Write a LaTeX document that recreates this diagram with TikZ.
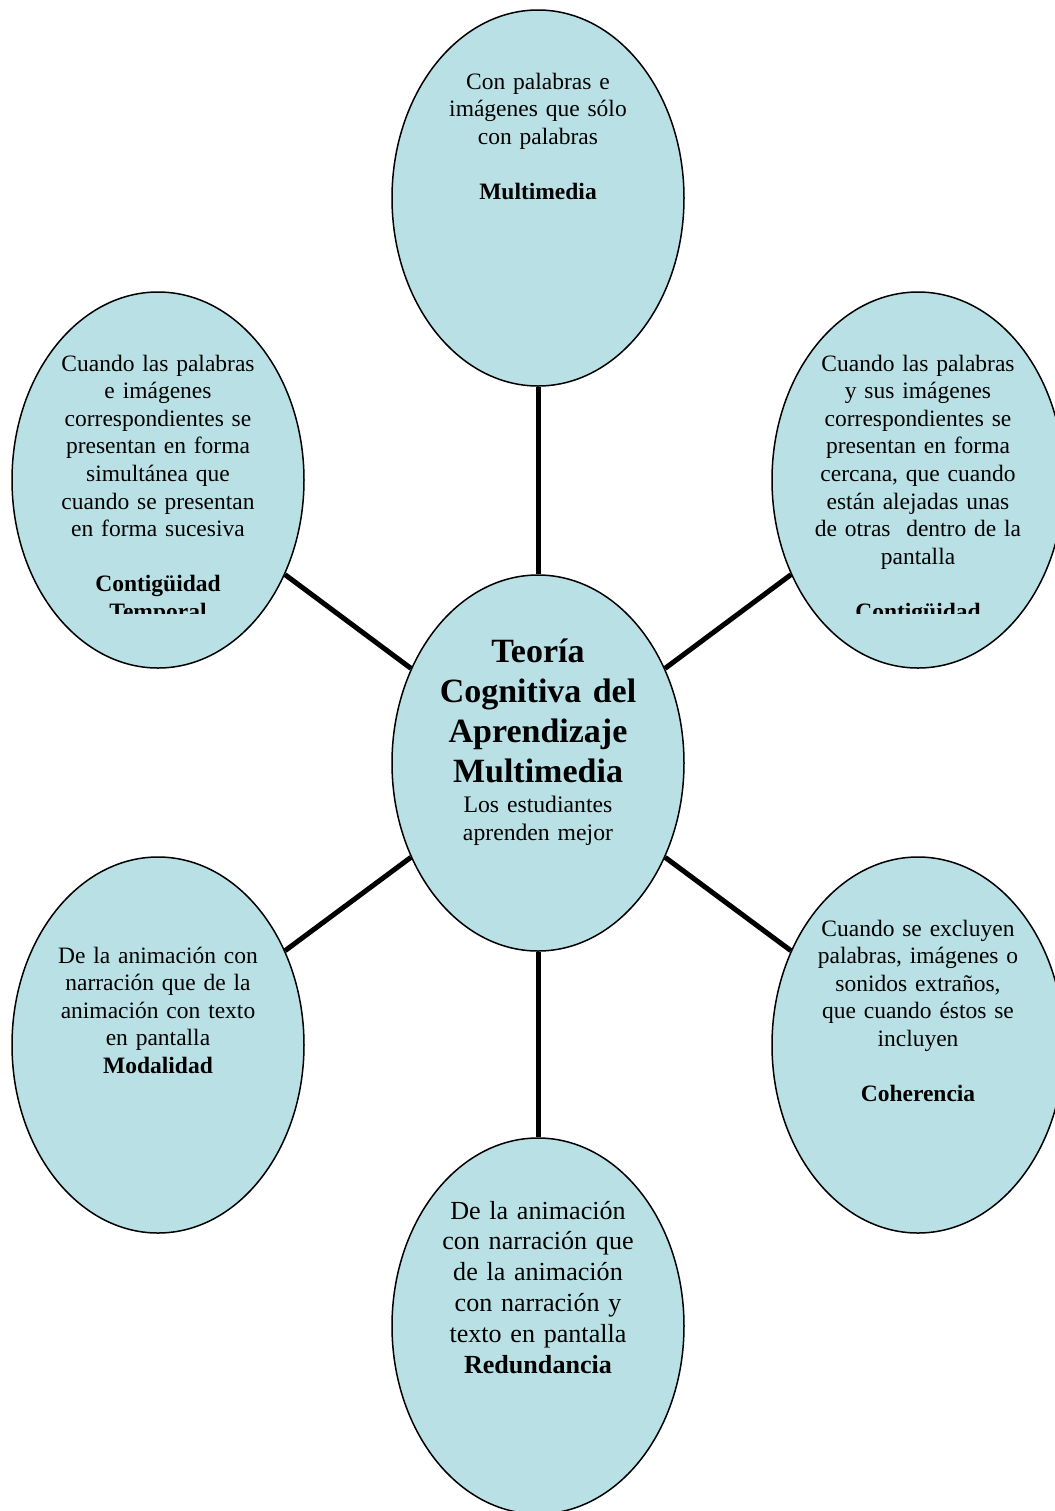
\documentclass[tikz,border=0pt]{standalone}
\usepackage{fontspec}
\setmainfont{Liberation Serif}
\usetikzlibrary{shapes.geometric,backgrounds}
\definecolor{bub}{RGB}{185,224,228}
\begin{document}
\begin{tikzpicture}[x=0.5pt,y=-0.5pt,
  bubble/.style={ellipse,draw=black,line width=0.75pt,fill=bub,minimum width=146pt,minimum height=188pt,inner sep=0pt},
  conn/.style={line width=2.5pt,draw=black},
  txt/.style={anchor=base,align=center,inner sep=0pt,text width=125pt,font=\fontsize{11.75pt}{13.8pt}\selectfont},
  bigtxt/.style={anchor=base,align=center,inner sep=0pt,text width=125pt,font=\fontsize{13.05pt}{15.4pt}\selectfont},
  titletxt/.style={anchor=base,align=center,inner sep=0pt,text width=150pt,font=\fontsize{17pt}{20pt}\selectfont\bfseries},
  subtxt/.style={anchor=base,align=center,inner sep=0pt,text width=125pt,font=\fontsize{11.85pt}{14.3pt}\selectfont}]
\useasboundingbox (0,0) rectangle (1055,1511);
\clip (0,0) rectangle (1055,1511);
% ellipses
\node[bubble] (top) at (538,198) {};
\node[bubble] (c)   at (538,763) {};
\node[bubble] (lt)  at (158,480) {};
\node[bubble] (rt)  at (918,480) {};
\node[bubble] (lb)  at (158,1045) {};
\node[bubble] (rb)  at (918,1045) {};
\node[bubble] (bot) at (538,1326) {};
% connectors
\begin{pgfonlayer}{background}
\draw[conn] (top) -- (c);
\draw[conn] (lt) -- (c);
\draw[conn] (rt) -- (c);
\draw[conn] (lb) -- (c);
\draw[conn] (rb) -- (c);
\draw[conn] (c) -- (bot);
\end{pgfonlayer}
% texts
\begin{scope}
\clip (435,65) rectangle (641,331);
\node[txt] (ttop) at (538,89) {Con palabras e\\ imágenes que sólo\\ con palabras\\[13.8pt] \textbf{Multimedia}};
\end{scope}
\begin{scope}
\clip (55,347) rectangle (261,613);
\node[txt] (tlt) at (158,371) {Cuando las palabras\\ e imágenes\\ correspondientes se\\ presentan en forma\\ simultánea que\\ cuando se presentan\\ en forma sucesiva\\[13.8pt] \textbf{Contigüidad}\\ \textbf{Temporal}};
\end{scope}
\begin{scope}
\clip (815,347) rectangle (1021,613);
\node[txt] (trt) at (918,371) {Cuando las palabras\\ y sus imágenes\\ correspondientes se\\ presentan en forma\\ cercana, que cuando\\ están alejadas unas\\ de otras\ \ dentro de la\\ pantalla\\[13.8pt] \textbf{Contigüidad}\\ \textbf{Espacial}};
\end{scope}
\begin{scope}
\clip (435,630) rectangle (641,896);
\node[titletxt] (tc) at (538,662) {Teoría\\ Cognitiva del\\ Aprendizaje\\ Multimedia};
\node[subtxt] (sc) at (538,812) {Los estudiantes\\ aprenden mejor};
\end{scope}
\begin{scope}
\clip (55,912) rectangle (261,1178);
\node[txt] (tlb) at (158,963) {De la animación con\\ narración que de la\\ animación con texto\\ en pantalla\\ \textbf{Modalidad}};
\end{scope}
\begin{scope}
\clip (815,912) rectangle (1021,1178);
\node[txt] (trb) at (918,936) {Cuando se excluyen\\ palabras, imágenes o\\ sonidos extraños,\\ que cuando éstos se\\ incluyen\\[13.8pt] \textbf{Coherencia}};
\end{scope}
\begin{scope}
\clip (435,1193) rectangle (641,1459);
\node[bigtxt] (tbot) at (538,1219) {De la animación\\ con narración que\\ de la animación\\ con narración y\\ texto en pantalla\\ \textbf{Redundancia}};
\end{scope}
\end{tikzpicture}
\end{document}
